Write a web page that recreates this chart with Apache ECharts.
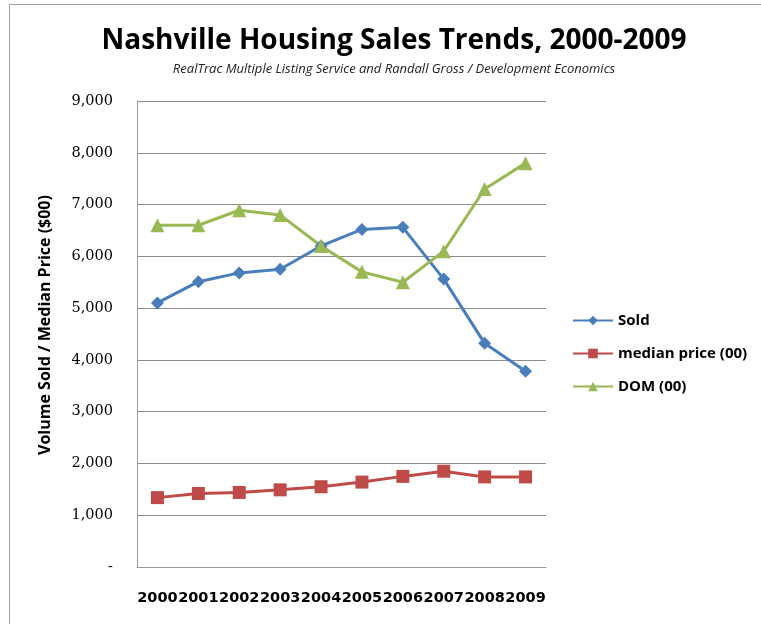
<!DOCTYPE html>
<html>
<head>
<meta charset="utf-8">
<script src="https://cdn.jsdelivr.net/npm/echarts@6/dist/echarts.min.js"></script>
<style>
  html, body { margin: 0; padding: 0; background: #fff; }
  #chart { width: 761px; height: 624px; }
</style>
</head>
<body>
<div id="chart"></div>
<script>
const years = ['2000', '2001', '2002', '2003', '2004', '2005', '2006', '2007', '2008', '2009'];
const sold = [5100, 5510, 5680, 5750, 6200, 6520, 6560, 5560, 4320, 3780];
const medianPrice = [1340, 1420, 1440, 1490, 1550, 1640, 1750, 1850, 1740, 1740];
const dom = [6600, 6600, 6890, 6800, 6200, 5700, 5500, 6100, 7300, 7800];

const chart = echarts.init(document.getElementById('chart'));

function fmt(v) {
  if (v === 0) return '-';
  return v.toLocaleString('en-US');
}

const lineSeries = (name, data, color, symbol, size) => ({
  name: name,
  type: 'line',
  data: data,
  symbol: symbol,
  symbolSize: size,
  lineStyle: { color: color, width: 3 },
  itemStyle: { color: color },
  emphasis: { disabled: true }
});

const option = {
  animation: false,
  title: [
    {
      text: 'Nashville Housing Sales Trends, 2000-2009',
      left: 389,
      top: 22,
      textAlign: 'center',
      textStyle: { fontFamily: 'Open Sans', fontWeight: 'bold', fontSize: 28, color: '#000' }
    },
    {
      text: 'RealTrac Multiple Listing Service and Randall Gross / Development Economics',
      left: 389,
      top: 58,
      textAlign: 'center',
      textStyle: { fontFamily: 'Open Sans', fontStyle: 'italic', fontWeight: 'normal', fontSize: 13, color: '#222' }
    }
  ],
  legend: {
    orient: 'vertical',
    left: 567,
    top: 308,
    itemGap: 18,
    itemWidth: 40,
    itemHeight: 12,
    textStyle: { fontFamily: 'Open Sans', fontWeight: 'bold', fontSize: 15, color: '#000' },
    data: ['Sold', 'median price (00)', 'DOM (00)']
  },
  grid: { left: 137, right: 215, top: 101, bottom: 57 },
  xAxis: {
    type: 'category',
    data: years,
    boundaryGap: true,
    axisLine: { lineStyle: { color: '#9a9a9a' } },
    axisTick: { show: false },
    axisLabel: { interval: 0, margin: 24, fontFamily: 'DejaVu Sans', fontWeight: 'bold', fontSize: 14.5, color: '#000' }
  },
  yAxis: {
    type: 'value',
    min: 0,
    max: 9000,
    interval: 1000,
    name: 'Volume Sold / Median Price ($00)',
    nameLocation: 'middle',
    nameGap: 84,
    nameTextStyle: { fontFamily: 'Open Sans', fontWeight: 'bold', fontSize: 16, color: '#000', padding: [0, 0, 0, 18] },
    axisLine: { show: true, lineStyle: { color: '#9a9a9a' } },
    axisTick: { show: false },
    axisLabel: { formatter: fmt, margin: 24, fontFamily: 'DejaVu Serif', fontSize: 14.5, color: '#000' },
    splitLine: { lineStyle: { color: '#8c8c8c', width: 1 } }
  },
  graphic: [
    {
      type: 'rect',
      shape: { x: 9.5, y: 4.5, width: 800, height: 700 },
      style: { fill: null, stroke: '#a0a0a0', lineWidth: 1 },
      silent: true
    }
  ],
  series: [
    lineSeries('Sold', sold, '#4a7ebb', 'diamond', 13),
    lineSeries('median price (00)', medianPrice, '#be4b48', 'rect', 13),
    lineSeries('DOM (00)', dom, '#98b954', 'triangle', 14)
  ]
};

chart.setOption(option);
</script>
</body>
</html>
